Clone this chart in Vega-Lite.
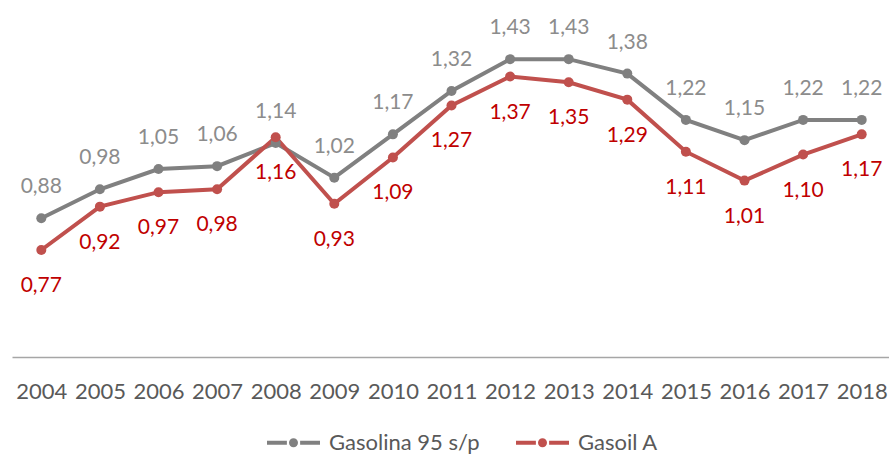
{
  "$schema": "https://vega.github.io/schema/vega-lite/v6.json",
  "width": 879,
  "height": 347,
  "autosize": {"type": "none"},
  "padding": {"left": 12, "top": 10, "right": 0, "bottom": 98},
  "background": "white",
  "config": {
    "view": {"stroke": null},
    "font": "Lato",
    "locale": {"number": {"decimal": ",", "thousands": ".", "grouping": [3], "currency": ["", " €"]}}
  },
  "data": {
    "values": [
      {"year": "2004", "serie": "Gasolina 95 s/p", "precio": 0.88},
      {"year": "2005", "serie": "Gasolina 95 s/p", "precio": 0.98},
      {"year": "2006", "serie": "Gasolina 95 s/p", "precio": 1.05},
      {"year": "2007", "serie": "Gasolina 95 s/p", "precio": 1.06},
      {"year": "2008", "serie": "Gasolina 95 s/p", "precio": 1.14},
      {"year": "2009", "serie": "Gasolina 95 s/p", "precio": 1.02},
      {"year": "2010", "serie": "Gasolina 95 s/p", "precio": 1.17},
      {"year": "2011", "serie": "Gasolina 95 s/p", "precio": 1.32},
      {"year": "2012", "serie": "Gasolina 95 s/p", "precio": 1.43},
      {"year": "2013", "serie": "Gasolina 95 s/p", "precio": 1.43},
      {"year": "2014", "serie": "Gasolina 95 s/p", "precio": 1.38},
      {"year": "2015", "serie": "Gasolina 95 s/p", "precio": 1.22},
      {"year": "2016", "serie": "Gasolina 95 s/p", "precio": 1.15},
      {"year": "2017", "serie": "Gasolina 95 s/p", "precio": 1.22},
      {"year": "2018", "serie": "Gasolina 95 s/p", "precio": 1.22},
      {"year": "2004", "serie": "Gasoil A", "precio": 0.77},
      {"year": "2005", "serie": "Gasoil A", "precio": 0.92},
      {"year": "2006", "serie": "Gasoil A", "precio": 0.97},
      {"year": "2007", "serie": "Gasoil A", "precio": 0.98},
      {"year": "2008", "serie": "Gasoil A", "precio": 1.16},
      {"year": "2009", "serie": "Gasoil A", "precio": 0.93},
      {"year": "2010", "serie": "Gasoil A", "precio": 1.09},
      {"year": "2011", "serie": "Gasoil A", "precio": 1.27},
      {"year": "2012", "serie": "Gasoil A", "precio": 1.37},
      {"year": "2013", "serie": "Gasoil A", "precio": 1.35},
      {"year": "2014", "serie": "Gasoil A", "precio": 1.29},
      {"year": "2015", "serie": "Gasoil A", "precio": 1.11},
      {"year": "2016", "serie": "Gasoil A", "precio": 1.01},
      {"year": "2017", "serie": "Gasoil A", "precio": 1.10},
      {"year": "2018", "serie": "Gasoil A", "precio": 1.17}
    ]
  },
  "encoding": {
    "x": {
      "field": "year",
      "type": "ordinal",
      "scale": {"type": "point", "padding": 0.5},
      "axis": {
        "title": null,
        "labelAngle": 0,
        "labelFont": "Lato",
        "labelFontSize": 22,
        "labelColor": "#595959",
        "labelPadding": 24,
        "ticks": false,
        "domainColor": "#a6a6a6",
        "domainWidth": 1.5,
        "grid": false
      }
    },
    "y": {
      "field": "precio",
      "type": "quantitative",
      "scale": {"domain": [0.4, 1.6], "zero": false, "nice": false},
      "axis": null
    }
  },
  "layer": [
    {
      "mark": {"type": "line", "strokeWidth": 4},
      "encoding": {
        "color": {
          "field": "serie",
          "type": "nominal",
          "scale": {"domain": ["Gasolina 95 s/p", "Gasoil A"], "range": ["#808080", "#c0504d"]},
          "legend": {
            "title": null,
            "orient": "none",
            "direction": "horizontal",
            "legendX": 253,
            "legendY": 404,
            "padding": 0,
            "symbolType": "M-1,0H-0.25M0.25,0H1M-0.094,0A0.094,0.094,0,1,1,0.094,0A0.094,0.094,0,1,1,-0.094,0",
            "symbolSize": 2809,
            "symbolStrokeWidth": 4,
            "labelFont": "Lato",
            "labelFontSize": 22,
            "labelColor": "#595959",
            "labelOffset": 7,
            "columnPadding": 28
          }
        }
      }
    },
    {
      "mark": {"type": "point", "filled": true, "size": 100, "opacity": 1},
      "encoding": {
        "color": {"field": "serie", "type": "nominal", "legend": null}
      }
    },
    {
      "transform": [{"filter": "datum.serie === 'Gasolina 95 s/p'"}],
      "mark": {"type": "text", "dy": -31, "fontSize": 21, "font": "Lato", "color": "#8c8c8c"},
      "encoding": {"text": {"field": "precio", "type": "quantitative", "format": ".2f"}}
    },
    {
      "transform": [{"filter": "datum.serie === 'Gasoil A'"}],
      "mark": {"type": "text", "dy": 36, "fontSize": 21, "font": "Lato", "color": "#c00000"},
      "encoding": {"text": {"field": "precio", "type": "quantitative", "format": ".2f"}}
    }
  ]
}
